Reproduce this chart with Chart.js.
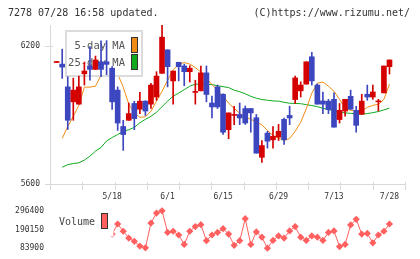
<!DOCTYPE html>
<html><head><meta charset="utf-8">
<script src="https://cdn.jsdelivr.net/npm/chart.js@4.4.0/dist/chart.umd.min.js"></script>
<style>
html,body{margin:0;padding:0;background:#fff;}
body{width:420px;height:259px;position:relative;overflow:hidden;font-family:"DejaVu Sans Mono",monospace;}
.hdr{position:absolute;top:6px;font-size:10px;line-height:13px;color:#333;white-space:pre;z-index:2;}
#c1{position:absolute;left:0;top:0;}
#c2{position:absolute;left:0;top:200px;}
</style></head>
<body>
<canvas id="c1" width="420" height="200"></canvas>
<canvas id="c2" width="420" height="59"></canvas>
<div class="hdr" style="left:8px">7278 07/28 16:58 updated.</div>
<div class="hdr" style="right:10px">(C)https://www.rizumu.net/</div>
<script>
const dates = ['4/28','4/30','5/1','5/7','5/8','5/11','5/12','5/13','5/14','5/15',
 '5/18','5/19','5/20','5/21','5/22','5/25','5/26','5/27','5/28','5/29',
 '6/1','6/2','6/3','6/4','6/5','6/8','6/9','6/10','6/11','6/12',
 '6/15','6/16','6/17','6/18','6/19','6/22','6/23','6/24','6/25','6/26',
 '6/29','6/30','7/1','7/2','7/3','7/6','7/7','7/8','7/9','7/10',
 '7/13','7/14','7/15','7/16','7/17','7/21','7/22','7/23','7/24','7/27','7/28'];
const tickLabels = ['5/18','6/1','6/15','6/29','7/13','7/28'];
const priceTicks = [5600, 6200];
const volumeTicks = [83900, 190150, 296400];

const open  = [6128,6121,6022,5957,5947,6079,6113,6098,6131,6131,
 6103,6008,5850,5877,5950,5925,5960,5947,5978,6081,
 6183,6048,6129,6113,6088,5998,6005,6083,5952,6022,
 5990,5836,5898,5902,5928,5928,5888,5716,5821,5792,
 5804,5881,5898,5967,6005,6034,6153,6030,5961,5960,
 5968,5880,5917,5981,5920,5903,5990,5978,5957,5996,6110];
const high  = [6128,6186,6066,6060,6069,6130,6197,6156,6222,6223,
 6110,6022,5877,5952,5960,5998,5962,6037,6088,6290,
 6183,6091,6129,6121,6114,6051,6113,6113,5982,6030,
 5992,5909,5938,5952,5939,5928,5902,5789,5829,5850,
 5859,5887,5938,6069,6044,6131,6172,6035,6000,5968,
 5996,5950,5968,6008,5938,5990,6030,6030,5968,6113,6139];
const low   = [6128,6059,5837,5877,5947,6030,6051,6098,6066,6075,
 5924,5833,5746,5877,5836,5906,5898,5928,5964,6081,
 6022,5947,6048,6027,6043,5947,6005,5957,5887,5928,
 5815,5797,5858,5858,5859,5825,5734,5694,5756,5756,
 5789,5772,5858,5950,5978,6034,6030,5947,5906,5906,
 5847,5865,5895,5925,5825,5903,5964,5968,5917,5996,6078];
const close = [6128,6108,5877,6008,6022,6091,6098,6139,6098,6120,
 5957,5865,5815,5906,5884,5960,5917,6030,6069,6238,
 6110,6091,6110,6088,6103,5998,6083,5989,5935,5935,
 5825,5909,5898,5887,5865,5909,5734,5767,5786,5807,
 5829,5792,5887,6061,6030,6131,6048,5947,5947,5923,
 5847,5920,5968,5925,5855,5960,5978,6000,5957,6113,6139];
const ma5 = [null,5798,5850,5894,5942,6021,6021,6025,6073,6095,
 6086,6078,6021,5947,5908,5890,5892,5916,5960,6003,
 6051,6095,6119,6128,6121,6106,6086,6060,6032,6008,
 5982,5951,5929,5907,5892,5881,5870,5857,5833,5811,
 5800,5789,5798,5829,5868,5927,5995,6038,6043,6025,
 6003,5968,5929,5920,5918,5918,5933,5942,5946,5968,6034];
const ma25 = [null,5673,5684,5689,5692,5704,5721,5743,5759,5787,
 5802,5815,5829,5836,5846,5866,5881,5894,5912,5936,
 5960,5982,5995,6010,6025,6034,6034,6034,6032,6027,
 6023,6019,6008,6001,5992,5981,5973,5967,5964,5961,
 5960,5955,5951,5950,5949,5945,5941,5936,5929,5923,
 5919,5914,5909,5907,5905,5904,5906,5910,5915,5922,5930];
const volume = [null,null,null,null,null,null,null,null,null,null,
 164000,221500,180300,141200,123000,96200,86000,226800,283600,296400,
 173300,180300,158800,105300,180300,207000,217700,126700,158800,173300,
 194700,164200,100000,126700,251500,105300,176500,146500,83900,128300,
 153500,141200,181900,207000,146500,128300,153500,146500,128300,173300,
 181900,93000,105300,216100,248200,164200,167900,114400,158800,180300,221500];

const UP = '#d40000', DOWN = '#3c46be', C5 = '#f08c14', C25 = '#10aa1e', VOL = '#ff5f5f';
const AXIS = '#d9d9d9';
const MONO = '"DejaVu Sans Mono", monospace';
const XMIN = -1.2, XMAX = 62.8;
const tickIdx = tickLabels.map(l => dates.indexOf(l));
const colors = close.map((c, i) => c >= open[i] ? UP : DOWN);

const decor = {
  id: 'decor',
  beforeDatasetDraw(chart, args) {
    if (args.index !== 2) return;
    const ctx = chart.ctx;
    ctx.save();
    ctx.fillStyle = '#fff';
    ctx.strokeStyle = '#dcdcdc';
    ctx.lineWidth = 2;
    ctx.fillRect(66, 31, 76, 45);
    ctx.strokeRect(66, 31, 76, 45);
    ctx.font = '10.5px ' + MONO;
    ctx.fillStyle = '#555';
    ctx.textAlign = 'right';
    ctx.textBaseline = 'middle';
    ctx.fillText('5-day MA', 125, 46);
    ctx.fillText('25-day MA', 125, 63.5);
    ctx.lineWidth = 1;
    ctx.strokeStyle = '#333';
    ctx.fillStyle = C5; ctx.fillRect(131.5, 37.5, 6, 15); ctx.strokeRect(131.5, 37.5, 6, 15);
    ctx.fillStyle = C25; ctx.fillRect(131.5, 54.5, 6, 15); ctx.strokeRect(131.5, 54.5, 6, 15);
    ctx.restore();
  },
  afterDraw(chart) {
    const ctx = chart.ctx, a = chart.chartArea, ys = chart.scales.y;
    ctx.save();
    ctx.strokeStyle = AXIS;
    ctx.lineWidth = 1;
    ctx.beginPath();
    ctx.moveTo(a.left + 0.5, a.top); ctx.lineTo(a.left + 0.5, a.bottom + 6);
    ctx.moveTo(a.left - 5, a.bottom + 0.5); ctx.lineTo(a.right, a.bottom + 0.5);
    for (let k = 0; k <= 11; k++) {
      const x = Math.round(a.left + k * (a.right - a.left) / 11) + 0.5;
      ctx.moveTo(x, a.bottom - 2); ctx.lineTo(x, a.bottom + 6);
    }
    priceTicks.forEach(v => {
      const y = Math.round(ys.getPixelForValue(v)) + 0.5;
      ctx.moveTo(a.left - 5, y); ctx.lineTo(a.left + 3, y);
    });
    ctx.stroke();
    ctx.restore();
  }
};

new Chart(document.getElementById('c1'), {
  type: 'bar',
  data: {
    datasets: [
      { type: 'line', data: ma5.map((v, i) => ({x: i, y: v})), borderColor: C5, borderWidth: 1,
        pointRadius: 0, tension: 0, order: 10 },
      { type: 'line', data: ma25.map((v, i) => ({x: i, y: v})), borderColor: C25, borderWidth: 1,
        pointRadius: 0, tension: 0, order: 11 },
      { type: 'bar', data: low.map((v, i) => ({x: i, y: [v, high[i]]})), backgroundColor: colors,
        barThickness: 1, grouped: false, borderWidth: 0, minBarLength: 1, order: 2 },
      { type: 'bar', data: open.map((v, i) => ({x: i, y: [v, close[i]]})), backgroundColor: colors,
        barThickness: 5, grouped: false, borderWidth: 0, minBarLength: 1, order: 1 }
    ]
  },
  options: {
    responsive: false, animation: false, events: [],
    layout: { padding: { top: 25, right: 15, left: 0, bottom: 0 } },
    plugins: { legend: { display: false }, tooltip: { enabled: false } },
    scales: {
      x: {
        type: 'linear', min: XMIN, max: XMAX, offset: false,
        grid: { display: false, drawTicks: false, offset: false }, border: { display: false },
        afterBuildTicks: s => { s.ticks = tickIdx.map(v => ({ value: v })); },
        afterFit: s => { s.height = 16; },
        ticks: { callback: v => dates[v], maxRotation: 0, autoSkip: false, padding: 8,
          font: { family: MONO, size: 8 }, color: '#333' }
      },
      y: {
        min: 5600, max: 6291,
        grid: { display: false, drawTicks: false }, border: { display: false },
        afterBuildTicks: s => { s.ticks = priceTicks.map(v => ({ value: v })); },
        afterFit: s => { s.width = 50; },
        ticks: { callback: v => String(v), padding: 10, font: { family: MONO, size: 8 }, color: '#333' }
      }
    }
  },
  plugins: [decor]
});

const volDecor = {
  id: 'volDecor',
  afterDatasetsDraw(chart) {
    const ctx = chart.ctx;
    ctx.save();
    ctx.fillStyle = '#fff';
    ctx.fillRect(50, 5, 63.5, 31.5);
    ctx.font = '10px ' + MONO;
    ctx.fillStyle = '#444';
    ctx.textAlign = 'left';
    ctx.textBaseline = 'middle';
    ctx.fillText('Volume', 59, 22.5);
    ctx.fillStyle = VOL; ctx.strokeStyle = '#333'; ctx.lineWidth = 1;
    ctx.fillRect(101.5, 13.5, 6, 15); ctx.strokeRect(101.5, 13.5, 6, 15);
    ctx.restore();
  }
};

new Chart(document.getElementById('c2'), {
  type: 'line',
  data: {
    datasets: [{
      data: volume.map((v, i) => ({x: i, y: v})), borderColor: VOL, backgroundColor: VOL, borderWidth: 1,
      pointStyle: 'rectRot', pointRadius: 3.6, pointBorderWidth: 0, tension: 0, clip: false
    }]
  },
  options: {
    responsive: false, animation: false, events: [],
    layout: { padding: { top: 9, right: 15, left: 0, bottom: 10 } },
    plugins: { legend: { display: false }, tooltip: { enabled: false } },
    scales: {
      x: { type: 'linear', min: XMIN, max: XMAX, display: false },
      y: {
        min: volumeTicks[0], max: volumeTicks[volumeTicks.length - 1],
        grid: { display: false, drawTicks: false }, border: { display: false },
        afterBuildTicks: s => { s.ticks = volumeTicks.map(v => ({ value: v })); },
        afterFit: s => { s.width = 50; },
        ticks: { callback: v => String(v), padding: 6, font: { family: MONO, size: 8 }, color: '#333' }
      }
    }
  },
  plugins: [volDecor]
});
</script>
</body></html>
